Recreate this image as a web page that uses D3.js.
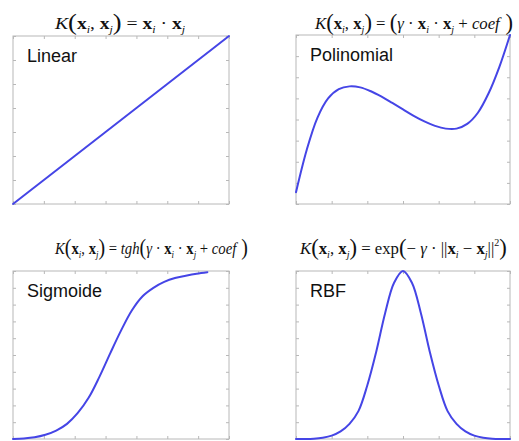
<!DOCTYPE html>
<html>
<head>
<meta charset="utf-8">
<script src="https://cdn.jsdelivr.net/npm/d3@7/dist/d3.min.js"></script>
<style>
  html, body { margin: 0; padding: 0; background: #fff; }
  svg { display: block; }
</style>
</head>
<body>
<svg id="chart" width="519" height="441"></svg>
<script>
// ---- data ----
const linearX = [0, 1, 2, 3, 4, 5, 6, 7];
const linearY = [0, 1, 2, 3, 4, 5, 6, 7];

const polyX = [0, 0.5, 1, 1.5, 2, 2.5, 3, 3.5, 4, 4.5, 5, 5.5, 6, 6.5, 7, 7.5, 8, 8.5, 9, 9.5, 10];
const polyY = [0.07, 0.32, 0.51, 0.625, 0.68, 0.696, 0.69, 0.667, 0.635, 0.598, 0.56, 0.522, 0.489, 0.462, 0.446, 0.446, 0.474, 0.54, 0.655, 0.81, 1.0];

const sigX = [0, 0.5, 1, 1.5, 2, 2.5, 3, 3.5, 4, 4.5, 5, 5.5, 6, 6.5, 7, 7.5, 8, 8.5, 9];
const sigY = [0, 0.003, 0.01, 0.025, 0.05, 0.09, 0.155, 0.245, 0.37, 0.51, 0.645, 0.765, 0.85, 0.9, 0.935, 0.958, 0.972, 0.984, 0.993];

const rbfX = [-3, -2.75, -2.5, -2.25, -2, -1.75, -1.5, -1.25, -1, -0.75, -0.5, -0.25, 0, 0.25, 0.5, 0.75, 1, 1.25, 1.5, 1.75, 2, 2.25, 2.5, 2.75, 3];
const rbfY = [0, 0, 0.002, 0.008, 0.02, 0.045, 0.09, 0.166, 0.32, 0.52, 0.75, 0.93, 1.0, 0.93, 0.75, 0.52, 0.32, 0.166, 0.09, 0.045, 0.02, 0.008, 0.002, 0, 0];

const panelNames = ["Linear", "Polinomial", "Sigmoide", "RBF"];

// formula pieces: [text, style]  i=italic, b=bold, r=roman, s=subscript, p=big paren, u=superscript
const formulas = [
  [["K","i"],["(","p"],["x","b"],["i","s"],[", ","r"],["x","b"],["j","s"],[")","p"],[" = ","r"],["x","b"],["i","s"],[" · ","r"],["x","b"],["j","s"]],
  [["K","i"],["(","p"],["x","b"],["i","s"],[", ","r"],["x","b"],["j","s"],[")","p"],[" = ","r"],["(","p"],["γ","i"],[" · ","r"],["x","b"],["i","s"],[" · ","r"],["x","b"],["j","s"],[" + ","r"],["coef","i"],[" )","p"]],
  [["K","i"],["(","p"],["x","b"],["i","s"],[", ","r"],["x","b"],["j","s"],[")","p"],[" = ","r"],["tgh","i"],["(","p"],["γ","i"],[" · ","r"],["x","b"],["i","s"],[" · ","r"],["x","b"],["j","s"],[" + ","r"],["coef","i"],[" )","p"]],
  [["K","i"],["(","p"],["x","b"],["i","s"],[", ","r"],["x","b"],["j","s"],[")","p"],[" = ","r"],["exp","r"],["(","p"],["− ","r"],["γ","i"],[" · ","r"],["||","r"],["x","b"],["i","s"],[" − ","r"],["x","b"],["j","s"],["||","r"],["2","u"],[")","p"]]
];

// ---- layout ----
const panels = [
  { name: panelNames[0], xs: linearX, ys: linearY, x0: 13,  x1: 229, y0: 36,  y1: 204, xd: [0, 7],  yd: [0, 7],  xt: d3.range(0, 8), yt: d3.range(0, 8),
    f: formulas[0], fx0: 55,  fx1: 185, fy: 29 },
  { name: panelNames[1], xs: polyX,   ys: polyY,   x0: 296, x1: 510, y0: 35,  y1: 204, xd: [0, 10], yd: [0, 1],  xt: d3.range(0, 10.01, 10/6), yt: d3.range(0, 1.01, 0.125),
    f: formulas[1], fx0: 315, fx1: 513, fy: 29 },
  { name: panelNames[2], xs: sigX,    ys: sigY,    x0: 13,  x1: 229, y0: 271, y1: 439, xd: [0, 10], yd: [0, 1],  xt: d3.range(0, 10.01, 10/7), yt: d3.range(0, 1.01, 0.1),
    f: formulas[2], fx0: 55,  fx1: 248, fy: 254 },
  { name: panelNames[3], xs: rbfX,    ys: rbfY,    x0: 296, x1: 510, y0: 271, y1: 439, xd: [-3, 3], yd: [0, 1],  xt: d3.range(-3, 3.01, 1), yt: d3.range(0, 1.01, 0.1),
    f: formulas[3], fx0: 300, fx1: 507, fy: 254 }
];

const svg = d3.select("#chart");
const frameColor = "#b8b8b8";
const lineColor = "#4545e6";
const serif = "'Liberation Serif', 'Times New Roman', serif";
const fSize = 17;

panels.forEach(p => {
  const x = d3.scaleLinear().domain(p.xd).range([p.x0, p.x1]);
  const y = d3.scaleLinear().domain(p.yd).range([p.y1, p.y0]);
  const g = svg.append("g");

  // inward ticks on all four sides
  const tk = 3;
  const axes = [
    [d3.axisBottom(x).tickValues(p.xt).tickSize(-tk), `translate(0,${p.y1})`],
    [d3.axisTop(x).tickValues(p.xt).tickSize(-tk), `translate(0,${p.y0})`],
    [d3.axisLeft(y).tickValues(p.yt).tickSize(-tk), `translate(${p.x0},0)`],
    [d3.axisRight(y).tickValues(p.yt).tickSize(-tk), `translate(${p.x1},0)`]
  ];
  axes.forEach(([ax, tr]) => {
    const a = g.append("g").attr("transform", tr).call(ax.tickFormat(""));
    a.select(".domain").remove();
    a.selectAll("line").attr("stroke", frameColor).attr("stroke-width", 1);
  });

  // frame
  g.append("rect")
    .attr("x", p.x0).attr("y", p.y0)
    .attr("width", p.x1 - p.x0).attr("height", p.y1 - p.y0)
    .attr("fill", "none").attr("stroke", frameColor).attr("stroke-width", 1);

  // curve
  const pts = p.xs.map((v, i) => [v, p.ys[i]]);
  g.append("path")
    .datum(pts)
    .attr("d", d3.line().x(d => x(d[0])).y(d => y(d[1])).curve(d3.curveCatmullRom.alpha(0.5)))
    .attr("fill", "none")
    .attr("stroke", lineColor)
    .attr("stroke-width", 2)
    .attr("stroke-linecap", "round");

  // panel name
  g.append("text")
    .attr("x", p.x0 + 14).attr("y", p.y0 + 26)
    .attr("font-family", "'Liberation Sans', Arial, sans-serif")
    .attr("font-size", 18)
    .attr("fill", "#111")
    .text(p.name);

  // formula title, drawn at the origin and then placed/condensed into its span
  const t = g.append("text")
    .attr("x", 0).attr("y", 0)
    .attr("font-family", serif)
    .attr("font-size", fSize)
    .attr("fill", "#111")
    .style("white-space", "pre");
  let shift = 0;
  p.f.forEach(([s, st]) => {
    const ts = t.append("tspan").text(s);
    let cur = 0;
    if (st === "i") ts.attr("font-style", "italic");
    if (st === "b") ts.attr("font-weight", "bold");
    if (st === "s") { ts.attr("font-style", "italic").attr("font-size", fSize * 0.6); cur = fSize * 0.25; }
    if (st === "u") { ts.attr("font-size", fSize * 0.6); cur = -fSize * 0.5; }
    if (st === "p") { ts.attr("font-size", fSize * 1.35); cur = fSize * 0.08; }
    ts.attr("dy", cur - shift);
    shift = cur;
  });
  const w = t.node().getComputedTextLength();
  const sx = (p.fx1 - p.fx0) / w;
  t.attr("transform", `translate(${p.fx0},${p.fy}) scale(${sx},1)`);
});
</script>
</body>
</html>
